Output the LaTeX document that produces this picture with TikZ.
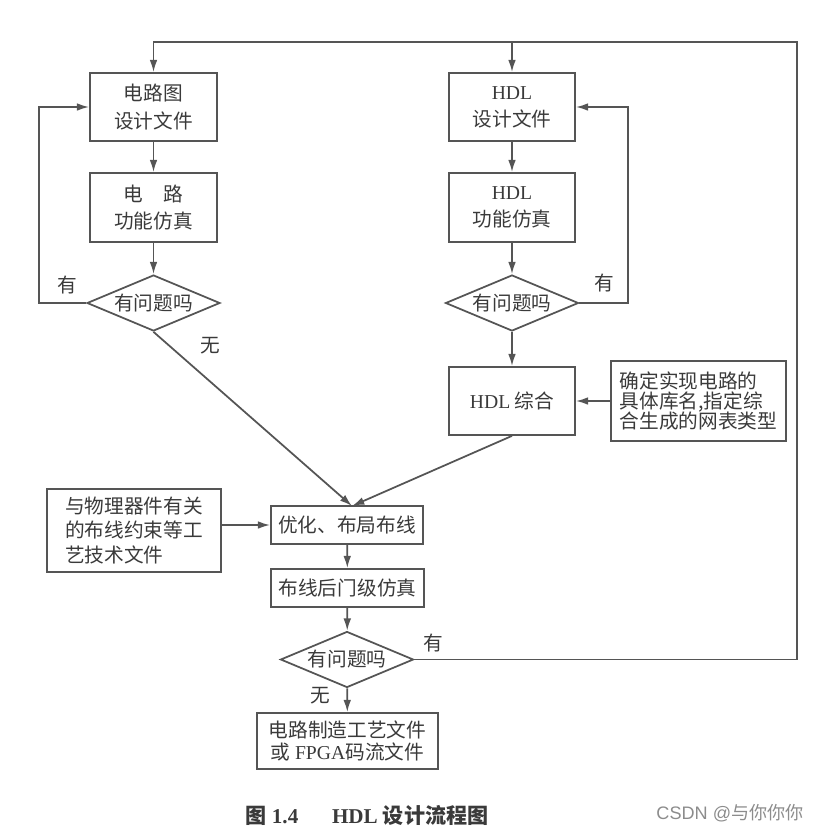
\documentclass[tikz,border=0pt]{standalone}
\usepackage{fontspec}
\setmainfont{Liberation Serif}
\setsansfont{Liberation Sans}
\newfontfamily\cjk{Noto Sans CJK SC}
\usetikzlibrary{shapes.geometric,arrows.meta}
\definecolor{ink}{HTML}{555555}
\definecolor{txt}{HTML}{3A3A3A}
\newcommand{\lat}[1]{{\rmfamily #1}}
\tikzset{
  box/.style={draw=ink,line width=1pt,text=txt,align=center,inner sep=2pt,
    font=\cjk\fontsize{11.2pt}{15.5pt}\selectfont},
  dec/.style={draw=ink,line width=1pt,text=txt,diamond,aspect=2.375,inner sep=0pt,
    minimum width=2.66cm,minimum height=1.12cm,font=\cjk\fontsize{11.2pt}{14pt}\selectfont},
  lbl/.style={text=txt,font=\cjk\fontsize{11.2pt}{14pt}\selectfont},
  arr/.style={draw=ink,line width=1pt,-{Latex[length=7pt,width=4.4pt]}}
}
\begin{document}
\begin{tikzpicture}[x=0.02cm,y=-0.02cm]
        \useasboundingbox (0,0) rectangle (814,839);
        %% Left branch
        \node[box,minimum width=2.54cm,minimum height=1.36cm] (A) at (153.5,107) {电路图\\设计文件};
        \node[box,minimum width=2.54cm,minimum height=1.38cm] (B) at (153.5,207.5) {电\hspace{1em}路\\功能仿真};
        \node[dec] (C) at (153.5,303) {有问题吗};
        %% Right branch
        \node[box,minimum width=2.52cm,minimum height=1.36cm] (D) at (512,107) {\lat{HDL}\\设计文件};
        \node[box,minimum width=2.52cm,minimum height=1.38cm] (E) at (512,207.5) {\lat{HDL}\\功能仿真};
        \node[dec] (F) at (512,303) {有问题吗};
        \node[box,minimum width=2.52cm,minimum height=1.36cm] (G) at (512,401) {\lat{HDL} 综合};
        \node[box,align=left,minimum width=3.5cm,minimum height=1.6cm,
          font=\cjk\fontsize{11.2pt}{11.6pt}\selectfont] (H) at (698.5,401)
          {确定实现电路的\\具体库名,指定综\\合生成的网表类型};
        %% Layout
        \node[box,align=left,minimum width=3.48cm,minimum height=1.66cm,
          font=\cjk\fontsize{11.2pt}{14pt}\selectfont] (I) at (134,530.5)
          {与物理器件有关\\的布线约束等工\\艺技术文件};
        \node[box,minimum width=3.04cm,minimum height=0.76cm] (J) at (347,525) {优化、布局布线};
        \node[box,minimum width=3.06cm,minimum height=0.76cm] (K) at (347.5,588) {布线后门级仿真};
        \node[dec] (L) at (347,659.5) {有问题吗};
        \node[box,minimum width=3.62cm,minimum height=1.12cm,
          font=\cjk\fontsize{11.2pt}{13pt}\selectfont] (M) at (347.5,741)
          {电路制造工艺文件\\或 \lat{FPGA}码流文件};
        %% Corners
        \coordinate (top) at (797,42);
        \coordinate (cl) at (39,303);
        \coordinate (fr) at (628,303);
        \coordinate (meet) at (352,506);
        %% Arrows
        \draw[arr] (A) -- (B);
        \draw[arr] (B) -- (C);
        \draw[arr] (D) -- (E);
        \draw[arr] (E) -- (F);
        \draw[arr] (F) -- (G);
        \draw[arr] (J) -- (K);
        \draw[arr] (K) -- (L);
        \draw[arr] (L) -- (M);
        \draw[arr] (C.west) -- (cl) |- (A.west);
        \draw[arr] (F.east) -- (fr) |- (D.east);
        \draw[arr] (C.south) -- (meet);
        \draw[arr] (G.south) -- (meet);
        \draw[arr] (H.west) -- (G.east);
        \draw[arr] (I.east |- J.west) -- (J.west);
        \draw[arr] (L.east) -- (L.east -| top) -- (top) -| (A.north);
        \draw[arr] (D.north |- top) -- (D.north);
        %% Labels
        \node[lbl] (l1) at (67,285) {有};
        \node[lbl] (l2) at (210,346) {无};
        \node[lbl] (l3) at (604,283) {有};
        \node[lbl] (l4) at (433,643) {有};
        \node[lbl] (l5) at (320,696) {无};
        %% Caption
        \node[text=txt,font=\fontsize{12pt}{14pt}\selectfont\bfseries] (cap) at (367,815)
          {{\cjk 图} 1.4\hspace{1.6em}HDL {\cjk 设计流程图}};
        \node[text=black!45,font=\sffamily\fontsize{10.3pt}{12pt}\selectfont] (wm) at (730,813)
          {CSDN @{\cjk 与你你你}};
\end{tikzpicture}
\end{document}
